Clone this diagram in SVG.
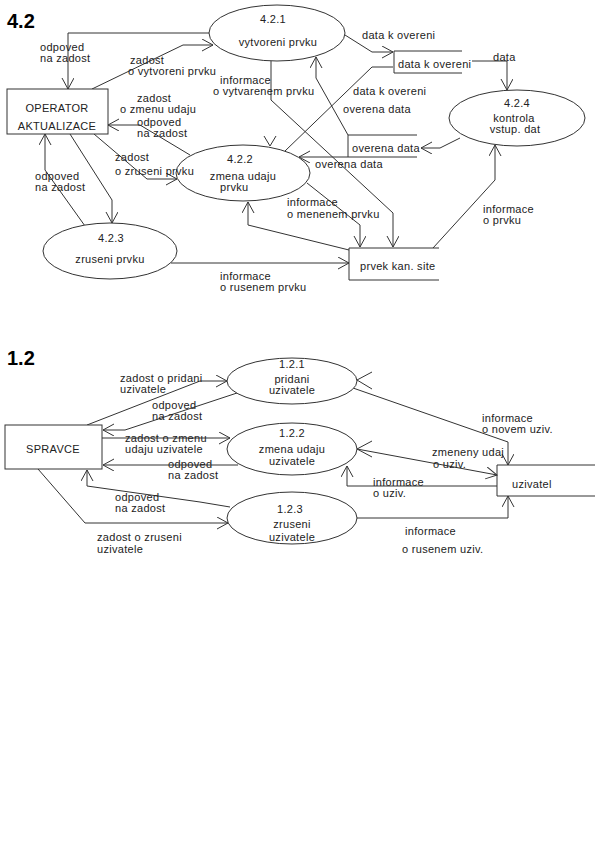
<svg xmlns="http://www.w3.org/2000/svg" width="595" height="842" viewBox="0 0 595 842">
<defs>
<marker id="ah" markerUnits="userSpaceOnUse" markerWidth="12" markerHeight="14" refX="11" refY="6" orient="auto">
<path d="M0,0 L11,6 L0,12" fill="none" stroke="#333" stroke-width="1"/>
</marker>
<style>
text{font-family:"Liberation Sans",Arial,sans-serif;font-size:11px;fill:#222;letter-spacing:0.3px}
.t{font-size:20px;font-weight:bold;fill:#000;letter-spacing:0}
.c{text-anchor:middle}
.n{fill:#fff;stroke:#333;stroke-width:1}
.s{fill:none;stroke:#333;stroke-width:1}
#connectors path{fill:none;stroke:#333;stroke-width:1}
.a{marker-end:url(#ah)}
</style>
</defs>
<rect width="595" height="842" fill="#fff"/>
<text class="t" x="7" y="28">4.2</text>
<text class="t" x="7" y="365">1.2</text>

<g id="connectors">
<!-- 4.2 -->
<path class="a" d="M209,33 H68 V89"/>
<path class="a" d="M92,89 L183,45 H213"/>
<path class="a" d="M345,35 L372,52 H393"/>
<path d="M393,67 H372 L285,151"/>
<path d="M264,136 L270,146 L276,136"/>
<path class="a" d="M348,135 L316,78 V57"/>
<path class="a" d="M460,138 L440,148 H421"/>
<path class="a" d="M348,157 H299"/>
<path class="a" d="M271,61 V100 L393,213 V247"/>
<path class="a" d="M307,183 L360,225 V247"/>
<path class="a" d="M349,250 L248,225 V202"/>
<path class="a" d="M171,263 H349"/>
<path class="a" d="M433,248 L495,180 V145"/>
<path class="a" d="M472,61 H507 V90"/>
<path class="a" d="M190,155 L140,125 H108"/>
<path class="a" d="M94,134 L147,179 H177"/>
<path class="a" d="M70,134 L112,200 V223"/>
<path class="a" d="M85,226 L45,170 V134"/>
<!-- 1.2 -->
<path class="a" d="M87,425 L200,381 H227"/>
<path class="a" d="M237,393 L125,430 H103"/>
<path class="a" d="M102,438 H230"/>
<path class="a" d="M238,465 H103"/>
<path class="a" d="M230,507 L200,502 L87,486 V470"/>
<path class="a" d="M38,469 L85,523 H228"/>
<path class="a" d="M353,388 L508,442 V465"/>
<path class="a" d="M357,449 L497,475"/>
<path class="a" d="M497,486 H347 V466"/>
<path class="a" d="M357,518 H508 V496"/>
<path d="M372,372 L357,380 L372,389"/>
<path d="M372,441 L357,449 L372,457"/>
</g>

<g id="p421">
<ellipse class="n" cx="277" cy="33" rx="68" ry="28"/>
<text class="c" x="273" y="23">4.2.1</text>
<text class="c" x="278" y="46">vytvoreni prvku</text>
</g>
<g id="p422">
<ellipse class="n" cx="243" cy="173" rx="67" ry="28"/>
<text class="c" x="240" y="163">4.2.2</text>
<text class="c" x="243" y="180">zmena udaju</text>
<text x="220" y="191">prvku</text>
</g>
<g id="p423">
<ellipse class="n" cx="110" cy="251" rx="67" ry="28"/>
<text class="c" x="111" y="242">4.2.3</text>
<text class="c" x="110" y="263">zruseni prvku</text>
</g>
<g id="p424">
<ellipse class="n" cx="517" cy="118" rx="68" ry="28"/>
<text class="c" x="517" y="107">4.2.4</text>
<text class="c" x="514" y="122">kontrola</text>
<text class="c" x="515" y="133">vstup. dat</text>
</g>
<g id="operator">
<rect class="n" x="7" y="89" width="101" height="45"/>
<text class="c" x="57" y="112">OPERATOR</text>
<text class="c" x="57" y="130">AKTUALIZACE</text>
</g>
<g id="store-dko">
<path class="s" d="M462,51 H394 V73 H462"/>
<text x="398" y="68">data k overeni</text>
</g>
<g id="store-od">
<path class="s" d="M417,135 H348 V157 H417"/>
<text x="352" y="152">overena data</text>
</g>
<g id="store-pks">
<path class="s" d="M439,248 H349 V280 H439"/>
<text x="360" y="270">prvek kan. site</text>
</g>

<g id="labels42">
<text x="40" y="51">odpoved</text>
<text x="40" y="62">na zadost</text>
<text x="130" y="64">zadost</text>
<text x="128" y="75">o vytvoreni prvku</text>
<text x="137" y="102">zadost</text>
<text x="120" y="113">o zmenu udaju</text>
<text x="137" y="126">odpoved</text>
<text x="137" y="137">na zadost</text>
<text x="220" y="84">informace</text>
<text x="213" y="95">o vytvarenem prvku</text>
<text x="362" y="39">data k overeni</text>
<text x="353" y="95">data k overeni</text>
<text x="343" y="113">overena data</text>
<text x="493" y="61">data</text>
<text x="315" y="168">overena data</text>
<text x="35" y="180">odpoved</text>
<text x="35" y="191">na zadost</text>
<text x="115" y="161">zadost</text>
<text x="115" y="175">o zruseni prvku</text>
<text x="287" y="206">informace</text>
<text x="287" y="218">o menenem prvku</text>
<text x="220" y="280">informace</text>
<text x="220" y="291">o rusenem prvku</text>
<text x="483" y="213">informace</text>
<text x="483" y="224">o prvku</text>
</g>

<g id="p121">
<ellipse class="n" cx="292" cy="381" rx="65" ry="23"/>
<text class="c" x="292" y="368">1.2.1</text>
<text class="c" x="292" y="383">pridani</text>
<text class="c" x="292" y="394">uzivatele</text>
</g>
<g id="p122">
<ellipse class="n" cx="292" cy="449" rx="65" ry="26"/>
<text class="c" x="292" y="437">1.2.2</text>
<text class="c" x="292" y="453">zmena udaju</text>
<text class="c" x="292" y="465">uzivatele</text>
</g>
<g id="p123">
<ellipse class="n" cx="292" cy="518" rx="65" ry="26"/>
<text class="c" x="290" y="513">1.2.3</text>
<text class="c" x="292" y="528">zruseni</text>
<text class="c" x="292" y="541">uzivatele</text>
</g>
<g id="spravce">
<rect class="n" x="5" y="425" width="97" height="44"/>
<text class="c" x="53" y="453">SPRAVCE</text>
</g>
<g id="uzivatel">
<path class="s" d="M595,465 H497 V496 H595"/>
<text x="512" y="488">uzivatel</text>
</g>

<g id="labels12">
<text x="120" y="382">zadost o pridani</text>
<text x="120" y="393">uzivatele</text>
<text x="152" y="409">odpoved</text>
<text x="152" y="420">na zadost</text>
<text x="125" y="442">zadost o zmenu</text>
<text x="125" y="453">udaju uzivatele</text>
<text x="168" y="468">odpoved</text>
<text x="168" y="479">na zadost</text>
<text x="115" y="501">odpoved</text>
<text x="115" y="512">na zadost</text>
<text x="97" y="541">zadost o zruseni</text>
<text x="97" y="553">uzivatele</text>
<text x="482" y="422">informace</text>
<text x="482" y="433">o novem uziv.</text>
<text x="432" y="456">zmeneny udaj</text>
<text x="433" y="468">o uziv.</text>
<text x="373" y="486">informace</text>
<text x="373" y="497">o uziv.</text>
<text x="405" y="535">informace</text>
<text x="402" y="553">o rusenem uziv.</text>
</g>
</svg>
